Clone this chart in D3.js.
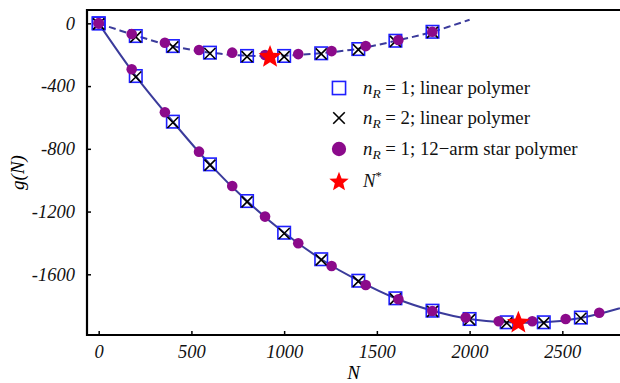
<!DOCTYPE html>
<html><head><meta charset="utf-8">
<script src="https://cdn.jsdelivr.net/npm/d3@7"></script>
<style>body{margin:0;background:#fff}svg{display:block}</style>
</head><body>
<svg id="c" width="620" height="383"></svg>
<script>
// ---- data ----
const sqN_low = [0,200,400,600,800,1000,1200,1400,1600,1800,2000,2200,2400,2600];
const sqG_low = [0,-336,-627,-899,-1133,-1335,-1504,-1641,-1753,-1832,-1885,-1906,-1906,-1876];
const sqN_up = [0,200,400,600,800,1000,1200,1400,1600,1800];
const sqG_up = [0,-81,-145,-187,-208,-208,-191,-164,-111,-54];
const xG_low = [-4,-342,-632,-904,-1138,-1340,-1508,-1645,-1757,-1836,-1889,-1910,-1910,-1880];
const xG_up = [-4,-86,-150,-192,-212,-212,-195,-168,-115,-58];
const ciN_low = [0,178,357,541,720,897,1076,1256,1440,1616,1799,1979,2157,2338,2518,2699];
const ciG_low = [0,-293,-567,-818,-1037,-1232,-1402,-1547,-1668,-1759,-1834,-1876,-1899,-1899,-1885,-1845];
const ciN_up = [0,178,357,541,720,897,1076,1256,1440,1616,1799];
const ciG_up = [0,-68,-124,-170,-187,-202,-196,-177,-145,-106,-54];
const starN = [924,2263];
const starG = [-208,-1903];
const fitN_low = [0,200,400,600,800,1000,1200,1400,1600,1800,2000,2200,2400,2600,2800,2900];
const fitG_low = [0,-336,-627,-899,-1133,-1335,-1504,-1641,-1753,-1832,-1885,-1906,-1906,-1878,-1820,-1780];
const fitN_up = [0,200,400,600,800,1000,1200,1400,1600,1800,2000];
const fitG_up = [0,-78,-145,-187,-206,-206,-190,-162,-112,-54,23];
const xTicks = [0,500,1000,1500,2000,2500];
const yTicks = [0,-400,-800,-1200,-1600];
const legendItems = ["square","cross","circle","star"];

// ---- chart ----
const svg = d3.select("#c");
const L=87, R=620, T=10, B=335;
const x = d3.scaleLinear().domain([-63,2811]).range([L,R]);
const y = d3.scaleLinear().domain([-1987,85]).range([B,T]);
const font = "'Liberation Serif','Times New Roman',serif";
const lineCol = "#3b3b9b";

svg.append("defs").append("clipPath").attr("id","clip")
  .append("rect").attr("x",L).attr("y",T).attr("width",R-L+10).attr("height",B-T);

// axes
const ya = svg.append("g").attr("transform",`translate(${L},0)`)
  .call(d3.axisLeft(y).tickValues(yTicks).tickSize(-4).tickPadding(12).tickFormat(d=>String(d)));
const xa = svg.append("g").attr("transform",`translate(0,${B})`)
  .call(d3.axisBottom(x).tickValues(xTicks).tickSize(-4).tickPadding(10).tickFormat(d=>String(d)));
[ya,xa].forEach(a=>{
  a.attr("font-family",font);
  a.select(".domain").remove();
  a.selectAll(".tick line").attr("stroke","#000").attr("stroke-width",1.5);
  a.selectAll(".tick text").attr("font-family",font).attr("font-style","italic")
    .attr("font-size",18.5).attr("fill","#111");
});
// frame
svg.append("path").attr("d",`M${R+5},${T}H${L}V${B}H${R+5}`)
  .attr("fill","none").attr("stroke","#000").attr("stroke-width",2.2);

// axis labels
svg.append("text").attr("x",(L+R)/2).attr("y",379).attr("text-anchor","middle")
  .attr("font-family",font).attr("font-style","italic").attr("font-size",19).text("N");
svg.append("text").attr("transform",`translate(24,${(T+B)/2}) rotate(-90)`).attr("text-anchor","middle")
  .attr("font-family",font).attr("font-style","italic").attr("font-size",19).text("g(N)");

const plot = svg.append("g").attr("clip-path","url(#clip)");
const line = d3.line().x(d=>x(d[0])).y(d=>y(d[1])).curve(d3.curveCatmullRom);
plot.append("path").attr("d",line(d3.zip(fitN_low,fitG_low)))
  .attr("fill","none").attr("stroke",lineCol).attr("stroke-width",2);
plot.append("path").attr("d",line(d3.zip(fitN_up,fitG_up)))
  .attr("fill","none").attr("stroke",lineCol).attr("stroke-width",2).attr("stroke-dasharray","7,4");

const sqPts = d3.zip(sqN_low,sqG_low).concat(d3.zip(sqN_up,sqG_up));
const xPts = d3.zip(sqN_low,xG_low).concat(d3.zip(sqN_up,xG_up));
const ciPts = d3.zip(ciN_low,ciG_low).concat(d3.zip(ciN_up,ciG_up));
const stPts = d3.zip(starN,starG);

function drawSquare(g,cx,cy,k=1){ const S=12.5*k; g.append("rect").attr("x",cx-S/2).attr("y",cy-S/2).attr("width",S).attr("height",S)
  .attr("fill","none").attr("stroke","#1f1fff").attr("stroke-width",1.6); }
function drawCross(g,cx,cy,k=1){ const C=5.5*k; g.append("path").attr("d",`M${cx-C},${cy-C}L${cx+C},${cy+C}M${cx-C},${cy+C}L${cx+C},${cy-C}`)
  .attr("stroke","#000").attr("stroke-width",1.6); }
function drawCircle(g,cx,cy,k=1){ g.append("circle").attr("cx",cx).attr("cy",cy).attr("r",5.3*k).attr("fill","#8b0a8b"); }
function starPath(ro,ri){
  const pts=[]; for(let i=0;i<10;i++){ const r=i%2?ri:ro; const a=-Math.PI/2+i*Math.PI/5; pts.push([r*Math.cos(a),r*Math.sin(a)]); }
  return "M"+pts.map(p=>p[0].toFixed(2)+","+p[1].toFixed(2)).join("L")+"Z";
}
function drawStar(g,cx,cy,k=1){ g.append("path").attr("d",starPath(12*k,5.2*k)).attr("transform",`translate(${cx},${cy+1})`).attr("fill","#ff0000"); }

const mk = svg.append("g");
sqPts.forEach(p=>drawSquare(mk,x(p[0]),y(p[1])));
xPts.forEach(p=>drawCross(mk,x(p[0]),y(p[1])));
ciPts.forEach(p=>drawCircle(mk,x(p[0]),y(p[1])));
stPts.forEach(p=>drawStar(mk,x(p[0]),y(p[1])));

// legend
const lg = svg.append("g");
const rows = [88,118,149,181];
const drawers = {square:drawSquare,cross:drawCross,circle:drawCircle,star:drawStar};
const scales = {square:1.05,cross:1.05,circle:1.35,star:0.85};
const labels = [["1; linear polymer",true],["2; linear polymer",true],["1; 12\u2212arm star polymer",true],[null,false]];
legendItems.forEach((k,i)=>{
  drawers[k](lg,339,rows[i],scales[k]);
  const t = lg.append("text").attr("x",363).attr("y",rows[i]+6).attr("font-family",font).attr("font-size",18.8).attr("fill","#111");
  if(labels[i][0]){
    t.append("tspan").attr("font-style","italic").text("n");
    t.append("tspan").attr("font-style","italic").attr("font-size",13.5).attr("dy",4).text("R");
    t.append("tspan").attr("dy",-4).text(" = " + labels[i][0]);
  } else {
    t.append("tspan").attr("font-style","italic").text("N");
    t.append("tspan").attr("font-size",12.5).attr("dy",-7).text("*");
  }
});
</script>
</body></html>
